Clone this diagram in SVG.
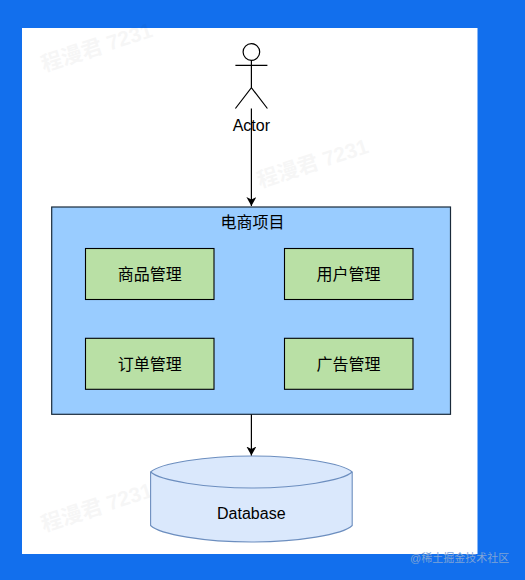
<svg xmlns="http://www.w3.org/2000/svg" width="525" height="580" viewBox="0 0 525 580">
<style>
text{font-family:"Liberation Sans","Noto Sans CJK SC",sans-serif;fill:#000}
.l{font-size:16px;text-anchor:middle}
.b{fill:#b9e0a5;stroke:#000;stroke-width:1.100}
.w{font-size:21px;fill:#000;opacity:.03;font-weight:bold}
.c{fill:none;stroke:#000;stroke-width:1.200}
</style>
<defs><marker id="a" markerUnits="userSpaceOnUse" markerWidth="10" markerHeight="10" refX="9" refY="5" orient="auto"><path d="M0 0L9 5L0 10L2.500 5Z" fill="#000"/></marker></defs>
<rect width="525" height="580" fill="#126fed"/>
<rect x="22" y="28" width="455.500" height="526" fill="#fff"/>
<g id="watermarks">
<text class="w" transform="translate(44 72) rotate(-18)">程漫君 7231</text>
<text class="w" transform="translate(260 188) rotate(-18)">程漫君 7231</text>
<text class="w" transform="translate(44 532) rotate(-18)">程漫君 7231</text>
</g>
<g id="project"><rect x="51.700" y="207" width="398.800" height="207.300" fill="#99ccff" stroke="#1a2a3a" stroke-width="1.200"/><text class="l" x="252.500" y="227.500">电商项目</text></g>
<g id="goods"><rect class="b" x="85.500" y="248.500" width="128.500" height="51"/><text class="l" x="149.700" y="279.500">商品管理</text></g>
<g id="users"><rect class="b" x="284.500" y="248.500" width="128.500" height="51"/><text class="l" x="348.500" y="279.500">用户管理</text></g>
<g id="orders"><rect class="b" x="85.500" y="338.300" width="128.500" height="51"/><text class="l" x="149.700" y="369.500">订单管理</text></g>
<g id="ads"><rect class="b" x="284.500" y="338.300" width="128.500" height="51"/><text class="l" x="348.500" y="369.500">广告管理</text></g>
<g id="actor" class="c"><circle cx="251.400" cy="52" r="8.300"/><path d="M251.400 60.300V87.700M235.400 65.300H267.400M235.400 108.500L251.400 87.700L267.400 108.500"/><text x="251.300" y="130.500" class="l" stroke="none">Actor</text></g>
<g id="database"><path d="M150.600 472C160 463.500 205 456 251.400 456S343 463.500 352.200 472V525.500C343 534.500 298 542 251.400 542S160 534.500 150.600 525.500Z" fill="#dae8fc" stroke="#6c8ebf" stroke-width="1.100"/><path d="M150.600 472C160 480.500 205 488 251.400 488S343 480.500 352.200 472" fill="none" stroke="#6c8ebf" stroke-width="1.100"/><text class="l" x="251.300" y="519">Database</text></g>
<g id="connectors" class="c"><path d="M251.400 108.500V206" marker-end="url(#a)"/><path d="M251.400 414.500V455.500" marker-end="url(#a)"/></g>
<text x="410" y="562" style="font-size:11px;fill:#7fa3d6">@稀土掘金技术社区</text>
</svg>
